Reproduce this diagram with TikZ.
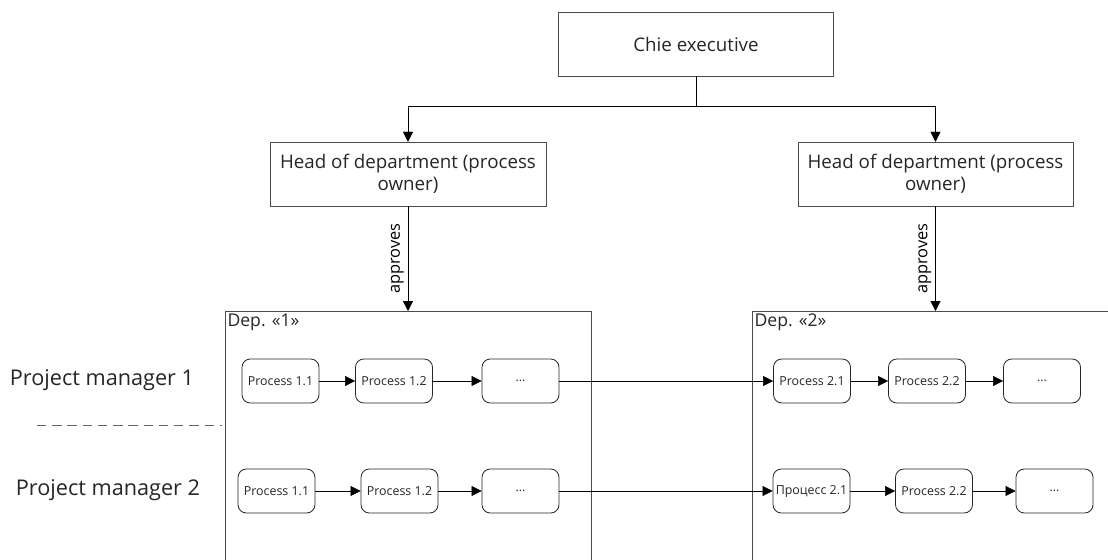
\documentclass[tikz,border=0pt]{standalone}
\usepackage{fontspec}
\setmainfont{Open Sans}
\usetikzlibrary{arrows.meta}

\tikzset{
  bigbox/.style={rectangle,draw=black!70,minimum height=1.92cm,align=center,font=\fontsize{16}{19}\selectfont},
  procbox/.style={rectangle,rounded corners=0.25cm,draw=black!85,line width=0.7pt,minimum width=2.31cm,minimum height=1.32cm,inner sep=1pt,font=\fontsize{10.6}{12}\selectfont},
  depbox/.style={rectangle,draw=black!70,anchor=north west,minimum height=10cm},
  flow/.style={-{Triangle[length=0.3cm,width=0.3cm]},black}
}

\begin{document}
\begin{tikzpicture}[x=0.03cm,y=-0.03cm,text=black!85]

      \useasboundingbox (0,0) rectangle (1108,560);
      \clip (0,0) rectangle (1108,560);

      \node[bigbox,minimum width=8.25cm] (chief) at (696,44){Chie executive};
      \node[bigbox,minimum width=8.28cm] (head1) at (408,174){Head of department (process\\owner)};
      \node[bigbox,minimum width=8.25cm] (head2) at (935.5,174){Head of department (process\\owner)};

      \draw[flow] (chief.south) -- ++(0,30) -| (head1.north);
      \draw[flow] (chief.south) -- ++(0,30) -| (head2.north);

      \node[depbox,minimum width=10.98cm] (dep1) at (225,311){};
      \node[depbox,minimum width=12cm] (dep2) at (752,311){};
      \node[anchor=north west,inner sep=2pt,font=\fontsize{15}{17}\selectfont] (dep1lbl) at (dep1.north west){Dep. «1»};
      \node[anchor=north west,inner sep=2pt,font=\fontsize{15}{17}\selectfont] (dep2lbl) at (dep2.north west){Dep. «2»};

      \draw[flow] (head1.south) -- node[midway,above,rotate=90,font=\fontsize{14}{16}\selectfont]{approves} (head1.south |- dep1.north);
      \draw[flow] (head2.south) -- node[midway,above,rotate=90,font=\fontsize{14}{16}\selectfont]{approves} (head2.south |- dep2.north);

      \node[font=\fontsize{18.5}{22}\selectfont] (pm1) at (102,380){Project manager 1};
      \node[font=\fontsize{18.5}{22}\selectfont] (pm2) at (108,490){Project manager 2};
      \coordinate (sepl) at (37,425);
      \coordinate (sepr) at (222,425);
      \draw[dashed,black!60,dash pattern=on 8pt off 5pt] (sepl) -- (sepr);

      % project manager 1
      \node[procbox] (a11) at (280.5,381){Process 1.1};
      \node[procbox] (a12) at (394,381){Process 1.2};
      \node[procbox] (a13) at (520.5,381){...};
      \node[procbox] (a21) at (812,381){Process 2.1};
      \node[procbox] (a22) at (927,381){Process 2.2};
      \node[procbox] (a23) at (1042,381){...};

      \draw[flow] (a11) -- (a12);
      \draw[flow] (a12) -- (a13);
      \draw[flow] (a13) -- (a21);
      \draw[flow] (a21) -- (a22);
      \draw[flow] (a22) -- (a23);

      % project manager 2
      \node[procbox] (b11) at (276.5,491){Process 1.1};
      \node[procbox] (b12) at (399.5,491){Process 1.2};
      \node[procbox] (b13) at (520.5,491){...};
      \node[procbox] (b21) at (811.5,491){Процесс 2.1};
      \node[procbox] (b22) at (934,491){Process 2.2};
      \node[procbox] (b23) at (1054.5,491){...};

      \draw[flow] (b11) -- (b12);
      \draw[flow] (b12) -- (b13);
      \draw[flow] (b13) -- (b21);
      \draw[flow] (b21) -- (b22);
      \draw[flow] (b22) -- (b23);

    \end{tikzpicture}
\end{document}
